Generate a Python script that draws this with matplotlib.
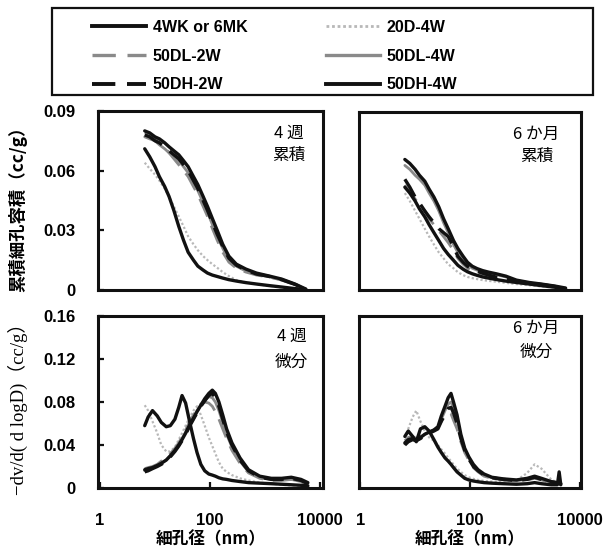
import matplotlib
matplotlib.use('Agg')
import matplotlib.pyplot as plt
from matplotlib.patches import Rectangle
from matplotlib.lines import Line2D
from matplotlib.ticker import NullLocator

plt.rcParams['font.family'] = ['Liberation Sans', 'Noto Sans CJK JP']

# ---------------- data ----------------
series_names = ["4WK or 6MK", "20D-4W", "50DL-2W", "50DL-4W", "50DH-2W", "50DH-4W"]

# cumulative pore volume grid (nm)
x_cum = [6.5, 8, 10, 12, 15, 18, 22, 27, 33, 40, 50, 60, 75, 90, 110, 135, 170,
         220, 300, 450, 700, 1200, 2000, 3500, 5500]

# 4 weeks cumulative (cc/g)
cum4_4wk = [0.071, 0.067, 0.062, 0.057, 0.052, 0.047, 0.040, 0.032, 0.025, 0.019,
            0.015, 0.012, 0.010, 0.0085, 0.0075, 0.0068, 0.006, 0.0052, 0.0045,
            0.0037, 0.003, 0.0022, 0.0015, 0.0007, 0.0003]
cum4_20d4w = [0.064, 0.061, 0.058, 0.055, 0.051, 0.047, 0.042, 0.037, 0.032, 0.027,
              0.023, 0.020, 0.017, 0.015, 0.013, 0.0112, 0.009, 0.007, 0.005,
              0.0038, 0.003, 0.002, 0.0013, 0.0006, 0.0002]
cum4_50dl2w = [0.079, 0.078, 0.076, 0.074, 0.072, 0.069, 0.066, 0.063, 0.060, 0.057,
               0.052, 0.048, 0.042, 0.037, 0.031, 0.025, 0.019, 0.014, 0.011, 0.009,
               0.0075, 0.0065, 0.005, 0.0027, 0.0004]
cum4_50dl4w = [0.077, 0.076, 0.075, 0.073, 0.071, 0.069, 0.067, 0.065, 0.062, 0.059,
               0.054, 0.050, 0.044, 0.039, 0.033, 0.027, 0.021, 0.015, 0.012, 0.0095,
               0.008, 0.0066, 0.0051, 0.0028, 0.0004]
cum4_50dh2w = [0.078, 0.077, 0.075, 0.074, 0.072, 0.070, 0.068, 0.066, 0.063, 0.060,
               0.055, 0.051, 0.045, 0.040, 0.034, 0.028, 0.022, 0.016, 0.0125, 0.010,
               0.008, 0.0068, 0.0052, 0.0028, 0.0004]
cum4_50dh4w = [0.080, 0.079, 0.077, 0.076, 0.074, 0.072, 0.070, 0.068, 0.065, 0.062,
               0.057, 0.053, 0.047, 0.042, 0.036, 0.030, 0.023, 0.017, 0.013, 0.0105,
               0.0085, 0.007, 0.0055, 0.003, 0.0005]

# 6 months cumulative (cc/g)
cum6_6mk = [0.052, 0.049, 0.045, 0.041, 0.037, 0.033, 0.029, 0.025, 0.021, 0.018,
            0.015, 0.0125, 0.0105, 0.0092, 0.0082, 0.0074, 0.0066, 0.006, 0.0053,
            0.0045, 0.0038, 0.003, 0.0022, 0.0014, 0.0006]
cum6_20d4w = [0.049, 0.045, 0.040, 0.036, 0.031, 0.027, 0.023, 0.019, 0.016, 0.013,
              0.011, 0.009, 0.0075, 0.0066, 0.006, 0.0055, 0.005, 0.0046, 0.0042,
              0.0036, 0.003, 0.0024, 0.0018, 0.0012, 0.0006]
cum6_50dl2w = [0.053, 0.050, 0.046, 0.043, 0.040, 0.036, 0.033, 0.030, 0.027, 0.024,
               0.020, 0.016, 0.013, 0.011, 0.0095, 0.0087, 0.008, 0.0072, 0.0064,
               0.0054, 0.0044, 0.0034, 0.0026, 0.0016, 0.0007]
cum6_50dl4w = [0.063, 0.061, 0.058, 0.056, 0.053, 0.049, 0.045, 0.040, 0.034, 0.029,
               0.023, 0.019, 0.015, 0.013, 0.011, 0.010, 0.009, 0.0085, 0.0078,
               0.0066, 0.0048, 0.0036, 0.0028, 0.0018, 0.0009]
cum6_50dh2w = [0.056, 0.052, 0.047, 0.044, 0.040, 0.037, 0.034, 0.031, 0.029, 0.027,
               0.022, 0.017, 0.014, 0.012, 0.0105, 0.0095, 0.0085, 0.0075, 0.0065,
               0.0055, 0.0045, 0.0035, 0.0028, 0.0018, 0.0008]
cum6_50dh4w = [0.066, 0.064, 0.061, 0.058, 0.055, 0.051, 0.047, 0.042, 0.036, 0.031,
               0.025, 0.021, 0.017, 0.014, 0.012, 0.0108, 0.0098, 0.009, 0.0082,
               0.007, 0.005, 0.0038, 0.003, 0.002, 0.001]

# 4 weeks differential grid (nm) and values
x_dif4 = [6.5, 7.5, 9, 11, 13, 16, 19, 23, 27, 31, 36, 42, 50, 58, 68, 80, 95, 110,
          125, 145, 170, 200, 250, 350, 500, 800, 1300, 2000, 3000, 4500, 6000]
dif4_4wk = [0.058, 0.066, 0.072, 0.067, 0.061, 0.057, 0.058, 0.064, 0.075, 0.086,
            0.079, 0.063, 0.046, 0.033, 0.022, 0.016, 0.013, 0.012, 0.011, 0.0095,
            0.0085, 0.008, 0.007, 0.006, 0.005, 0.0045, 0.004, 0.0035, 0.003,
            0.0025, 0.002]
dif4_20d4w = [0.077, 0.072, 0.062, 0.051, 0.040, 0.034, 0.034, 0.038, 0.045, 0.051,
              0.058, 0.065, 0.072, 0.076, 0.068, 0.058, 0.047, 0.039, 0.032, 0.024,
              0.018, 0.015, 0.012, 0.009, 0.007, 0.005, 0.004, 0.003, 0.0025,
              0.002, 0.0015]
dif4_50dl2w = [0.018, 0.019, 0.020, 0.022, 0.025, 0.028, 0.032, 0.037, 0.042, 0.048,
               0.054, 0.061, 0.068, 0.074, 0.078, 0.080, 0.079, 0.076, 0.071, 0.064,
               0.055, 0.046, 0.035, 0.023, 0.014, 0.009, 0.007, 0.007, 0.008,
               0.006, 0.003]
dif4_50dl4w = [0.016, 0.017, 0.019, 0.021, 0.023, 0.026, 0.030, 0.035, 0.040, 0.046,
               0.052, 0.059, 0.066, 0.072, 0.077, 0.082, 0.085, 0.084, 0.080, 0.072,
               0.061, 0.050, 0.038, 0.025, 0.015, 0.010, 0.008, 0.008, 0.008,
               0.006, 0.004]
dif4_50dh2w = [0.015, 0.016, 0.018, 0.020, 0.022, 0.025, 0.029, 0.034, 0.039, 0.044,
               0.050, 0.057, 0.064, 0.070, 0.076, 0.081, 0.086, 0.088, 0.084, 0.076,
               0.064, 0.052, 0.040, 0.026, 0.016, 0.010, 0.008, 0.008, 0.009,
               0.007, 0.004]
dif4_50dh4w = [0.017, 0.018, 0.019, 0.021, 0.023, 0.026, 0.030, 0.035, 0.040, 0.045,
               0.051, 0.058, 0.065, 0.071, 0.077, 0.083, 0.088, 0.091, 0.088, 0.080,
               0.068, 0.055, 0.042, 0.028, 0.017, 0.011, 0.009, 0.009, 0.010,
               0.008, 0.005]

# 6 months differential grid (nm) and values
x_dif6 = [6.5, 7.5, 9, 10.5, 12.5, 15, 18, 22, 26, 30, 35, 40, 45, 50, 58, 68, 80,
          95, 115, 140, 180, 250, 400, 700, 1100, 1500, 2000, 3000, 3900, 4200, 4500]
dif6_6mk = [0.048, 0.053, 0.048, 0.043, 0.055, 0.057, 0.053, 0.045, 0.038, 0.033,
            0.028, 0.025, 0.022, 0.019, 0.015, 0.012, 0.009, 0.0075, 0.0065, 0.0058,
            0.005, 0.0045, 0.004, 0.0035, 0.004, 0.005, 0.004, 0.003, 0.003,
            0.015, 0.003]
dif6_20d4w = [0.047, 0.055, 0.066, 0.072, 0.062, 0.053, 0.047, 0.044, 0.040, 0.036,
              0.032, 0.028, 0.025, 0.022, 0.018, 0.015, 0.012, 0.010, 0.0085, 0.0075,
              0.0065, 0.006, 0.006, 0.007, 0.014, 0.022, 0.018, 0.008, 0.005,
              0.005, 0.004]
dif6_50dl2w = [0.044, 0.047, 0.048, 0.046, 0.048, 0.050, 0.052, 0.054, 0.056, 0.062,
               0.067, 0.070, 0.069, 0.063, 0.055, 0.043, 0.033, 0.026, 0.019, 0.015,
               0.011, 0.009, 0.0075, 0.0065, 0.0075, 0.009, 0.0075, 0.005, 0.004,
               0.004, 0.003]
dif6_50dl4w = [0.041, 0.044, 0.046, 0.045, 0.047, 0.050, 0.052, 0.054, 0.056, 0.064,
               0.072, 0.078, 0.080, 0.075, 0.064, 0.048, 0.036, 0.028, 0.021, 0.016,
               0.012, 0.0095, 0.008, 0.007, 0.008, 0.010, 0.008, 0.0055, 0.0045,
               0.0045, 0.0035]
dif6_50dh2w = [0.040, 0.043, 0.045, 0.044, 0.046, 0.049, 0.051, 0.053, 0.055, 0.062,
               0.069, 0.074, 0.075, 0.070, 0.060, 0.046, 0.035, 0.027, 0.020, 0.016,
               0.012, 0.0095, 0.008, 0.007, 0.008, 0.010, 0.008, 0.0055, 0.0045,
               0.0045, 0.0035]
dif6_50dh4w = [0.042, 0.045, 0.046, 0.044, 0.047, 0.050, 0.052, 0.054, 0.057, 0.067,
               0.076, 0.084, 0.088, 0.080, 0.068, 0.050, 0.037, 0.029, 0.022, 0.017,
               0.013, 0.010, 0.0085, 0.0075, 0.009, 0.011, 0.009, 0.006, 0.005,
               0.005, 0.004]

# ---------------- styles ----------------
BLACK = '#111111'
GRAY = '#8a8a8a'
LIGHT = '#b8b8b8'
styles = {
    "4WK or 6MK": dict(color=BLACK, lw=2.4, ls='-'),
    "20D-4W": dict(color=LIGHT, lw=1.6, ls=(0, (1, 1))),
    "50DL-2W": dict(color=GRAY, lw=2.0, ls=(0, (7, 3.5))),
    "50DL-4W": dict(color=GRAY, lw=2.0, ls='-'),
    "50DH-2W": dict(color=BLACK, lw=2.4, ls=(0, (6, 3))),
    "50DH-4W": dict(color=BLACK, lw=2.4, ls='-'),
}
draw_order = ["20D-4W", "50DL-2W", "50DL-4W", "4WK or 6MK", "50DH-2W", "50DH-4W"]

panels = [
    dict(rect=[98, 111, 323, 290], x=x_cum, xlim=(0.92, 11300), ylim=(0, 0.09),
         yticks=[0, 0.03, 0.06, 0.09], ylabels=['0', '0.03', '0.06', '0.09'],
         left=True, bottom=False, t1="4 週", t2="累積", tx=0.85, ty1=0.875, ty2=0.75,
         data={"4WK or 6MK": cum4_4wk, "20D-4W": cum4_20d4w, "50DL-2W": cum4_50dl2w,
               "50DL-4W": cum4_50dl4w, "50DH-2W": cum4_50dh2w, "50DH-4W": cum4_50dh4w}),
    dict(rect=[359, 112, 581, 290], x=x_cum, xlim=(0.95, 10500), ylim=(0, 0.09),
         left=False, bottom=False, t1="6 か月", t2="累積", tx=0.80, ty1=0.875, ty2=0.75,
         data={"4WK or 6MK": cum6_6mk, "20D-4W": cum6_20d4w, "50DL-2W": cum6_50dl2w,
               "50DL-4W": cum6_50dl4w, "50DH-2W": cum6_50dh2w, "50DH-4W": cum6_50dh4w}),
    dict(rect=[98, 316, 323, 488], x=x_dif4, xlim=(0.92, 11300), ylim=(0, 0.16),
         yticks=[0, 0.04, 0.08, 0.12, 0.16], ylabels=['0', '0.04', '0.08', '0.12', '0.16'],
         left=True, bottom=True, t1="4 週", t2="微分", tx=0.86, ty1=0.88, ty2=0.73,
         data={"4WK or 6MK": dif4_4wk, "20D-4W": dif4_20d4w, "50DL-2W": dif4_50dl2w,
               "50DL-4W": dif4_50dl4w, "50DH-2W": dif4_50dh2w, "50DH-4W": dif4_50dh4w}),
    dict(rect=[359, 316, 581, 488], x=x_dif6, xlim=(0.95, 10500), ylim=(0, 0.16),
         left=False, bottom=True, t1="6 か月", t2="微分", tx=0.80, ty1=0.93, ty2=0.79,
         data={"4WK or 6MK": dif6_6mk, "20D-4W": dif6_20d4w, "50DL-2W": dif6_50dl2w,
               "50DL-4W": dif6_50dl4w, "50DH-2W": dif6_50dh2w, "50DH-4W": dif6_50dh4w}),
]

W, H = 609, 552
fig = plt.figure(figsize=(W / 100, H / 100), dpi=100)

tick_font = dict(family=['Liberation Sans', 'Noto Sans CJK JP'], weight='bold', size=12)
cjk_font = ['Noto Sans CJK JP', 'DejaVu Sans']

for p in panels:
    x0, y0, x1, y1 = p['rect']
    ax = fig.add_axes([x0 / W, 1 - y1 / H, (x1 - x0) / W, (y1 - y0) / H])
    for name in draw_order:
        st = styles[name]
        ax.plot(p['x'], p['data'][name], color=st['color'], lw=st['lw'],
                linestyle=st['ls'], solid_capstyle='round', dash_capstyle='butt')
    ax.set_xscale('log')
    ax.set_xlim(*p['xlim'])
    ax.set_ylim(*p['ylim'])
    ax.xaxis.set_minor_locator(NullLocator())
    for s in ax.spines.values():
        s.set_linewidth(2.2)
        s.set_color(BLACK)
    if p['left']:
        ax.set_yticks(p['yticks'])
        ax.set_yticklabels(p['ylabels'], fontdict=tick_font)
    else:
        ax.set_yticks([])
    if p['bottom']:
        ax.set_xticks([1, 100, 10000])
        ax.set_xticklabels(['1', '100', '10000'], fontdict=tick_font)
        ax.set_xlabel("細孔径（nm）", family=cjk_font, weight='bold', size=12, labelpad=2)
    else:
        ax.set_xticks([])
    ax.tick_params(axis='both', direction='in', length=4, width=1.6, color=BLACK)
    ax.tick_params(axis='y', pad=16)
    ax.tick_params(axis='x', pad=18)
    ax.text(p['tx'], p['ty1'], p['t1'], transform=ax.transAxes, ha='center', va='center',
            family=cjk_font, size=12)
    ax.text(p['tx'], p['ty2'], p['t2'], transform=ax.transAxes, ha='center', va='center',
            family=cjk_font, size=12)

# y labels
fig.text(18 / W, 1 - 205 / H, "累積細孔容積（cc/g）", rotation=90, ha='center', va='center',
         family=['Noto Sans CJK JP', 'DejaVu Sans'], weight='bold', size=12.5)
fig.text(18 / W, 1 - 404 / H, "−dv/d( d logD)（cc/g）", rotation=90, ha='center', va='center',
         family=['Liberation Serif', 'Noto Sans CJK JP'], size=13.5)

# legend
fig.add_artist(Rectangle((52 / W, 1 - 95 / H), 541 / W, 87 / H, transform=fig.transFigure,
                         fill=False, lw=1.6, edgecolor=BLACK))
legend_order = ["4WK or 6MK", "50DL-2W", "50DH-2W", "20D-4W", "50DL-4W", "50DH-4W"]
handles = [Line2D([], [], color=styles[n]['color'], lw=styles[n]['lw'] + 0.4,
                  linestyle=styles[n]['ls']) for n in legend_order]
fig.legend(handles, legend_order, ncol=2, loc='upper left',
           bbox_to_anchor=(92 / W, 1 - 20 / H), frameon=False, borderpad=0,
           borderaxespad=0, handlelength=3.4, handletextpad=0.4, columnspacing=4.9,
           labelspacing=0.85, prop=dict(family='Liberation Sans', weight='bold', size=11.5))

fig.savefig('out.png', dpi=100)
